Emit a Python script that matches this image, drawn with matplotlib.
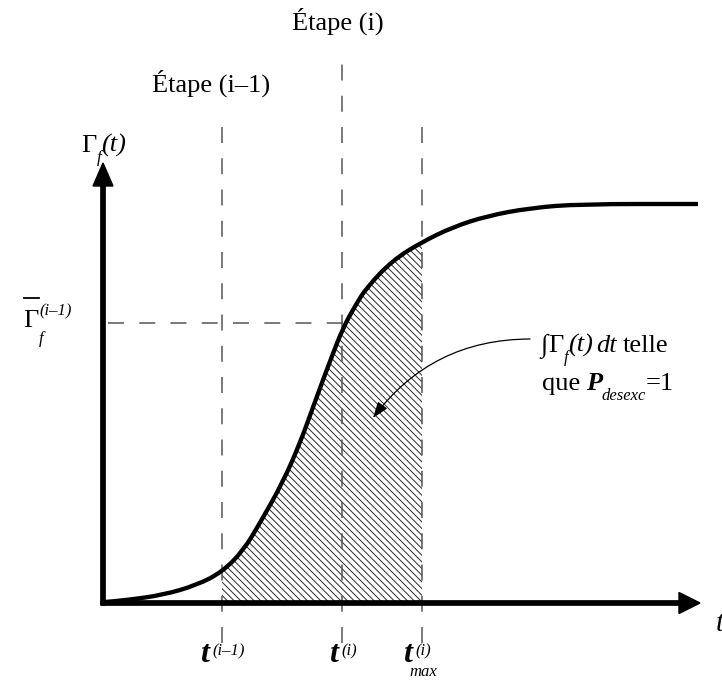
"""Schematic: cumulative Gamma_f(t) curve with hatched integral between steps."""

import matplotlib

matplotlib.use("Agg")
import matplotlib.pyplot as plt
from matplotlib.patches import PathPatch
from matplotlib.path import Path

plt.rcParams["font.family"] = ["Liberation Serif", "DejaVu Serif"]
plt.rcParams["hatch.linewidth"] = 0.7
plt.rcParams["hatch.color"] = "#2a2a2a"
plt.rcParams["lines.scale_dashes"] = False

# curve (t from the origin, Gamma above the t axis)
curve_t = [2, 24, 60, 94, 119, 140, 157, 180, 197, 209, 220, 229, 240, 252,
           264, 290, 319, 350, 384, 427, 477, 595]
curve_g = [1, 3, 8, 18, 31, 52, 80, 121, 160, 193, 223, 247, 275, 297,
           316, 343, 361, 376, 387, 395, 399, 399]

t_prev, t_step, t_max = 119, 239, 319
gamma_bar = 280
step_tops = [478, 543, 478]
dash_bottom = -40

X0, Y0 = 103, 603  # pixel position of the origin


def at(x, y):
    return x - X0, Y0 - y


def smooth_path(ts, gs, close=False):
    """Quadratic Bezier path through the midpoints of the read points."""
    pts = list(zip(ts, gs))
    mids = [((a[0] + b[0]) / 2, (a[1] + b[1]) / 2) for a, b in zip(pts, pts[1:])]
    verts = [pts[0], mids[0]]
    codes = [Path.MOVETO, Path.LINETO]
    for ctrl, end in zip(pts[1:-1], mids[1:]):
        verts += [ctrl, end]
        codes += [Path.CURVE3, Path.CURVE3]
    verts.append(pts[-1])
    codes.append(Path.LINETO)
    if close:
        verts += [(ts[-1], 0), (ts[0], 0), (ts[0], 0)]
        codes += [Path.LINETO, Path.LINETO, Path.CLOSEPOLY]
    return Path(verts, codes)


fig = plt.figure(figsize=(7.22, 6.8), dpi=100)
ax = fig.add_axes([0, 0, 1, 1])
ax.set_xlim(-X0, 722 - X0)
ax.set_ylim(Y0 - 680, Y0)
ax.axis("off")

# hatched area between t^(i-1) and t_max^(i), clipped by the area under the curve
under = PathPatch(smooth_path(curve_t, curve_g, close=True), facecolor="none",
                  edgecolor="none", transform=ax.transData)
ax.add_patch(under)
hatched = ax.fill_between([t_prev, t_max], 0, max(curve_g), facecolor="white",
                          edgecolor="#2a2a2a", hatch="\\\\\\\\\\", linewidth=0,
                          zorder=1)
hatched.set_clip_path(under)

dash = (0, (11.5, 11))
for t, top in zip((t_prev, t_step, t_max), step_tops):
    ax.plot([t, t], [dash_bottom, top], color="#555555", lw=1.1,
            linestyle=dash, zorder=2)
ax.plot([5, t_step + 4], [gamma_bar, gamma_bar], color="#555555", lw=1.1,
        linestyle=dash, zorder=2)

# axes with arrow heads
ax.arrow(0, -2, 0, 442, width=4.3, head_width=20, head_length=23,
         length_includes_head=True, color="black", zorder=4)
ax.arrow(-2, 0, 599, 0, width=4.3, head_width=21, head_length=21,
         length_includes_head=True, color="black", zorder=4)

ax.add_patch(PathPatch(smooth_path(curve_t, curve_g), facecolor="none",
                       edgecolor="black", lw=3.1, capstyle="butt",
                       joinstyle="round", zorder=5))

# annotation arrow
ax.annotate("", xy=at(373, 418), xytext=at(530, 339),
            arrowprops=dict(arrowstyle="-|>,head_length=0.7,head_width=0.25",
                            connectionstyle="arc3,rad=0.25", color="black",
                            lw=0.9, mutation_scale=14, shrinkA=0, shrinkB=0),
            zorder=6)

big, small = 19, 12
it = dict(style="italic")
bit = dict(style="italic", weight="bold")


def label(x, y, s, size=big, **kw):
    ax.text(*at(x, y), s, fontsize=size, va="baseline", ha=kw.pop("ha", "left"),
            **kw)


label(338, 30, "Étape (i)", ha="center")
label(211, 92, "Étape (i–1)", ha="center")

label(81, 152, "Γ")
label(97, 162, "f", small, **it)
label(101, 152, "(t)", **it)

label(23, 327, "Γ")
ax.plot(*zip(at(24, 298), at(39, 298)), color="black", lw=1.3)
label(39, 343, "f", small, **it)
label(72, 315, "(i–1)", small, ha="right", **it)

label(200, 662, "t", 23, **bit)
label(212, 655, "(i–1)", small, **it)
label(329, 662, "t", 23, **bit)
label(341, 655, "(i)", small, **it)
label(403, 662, "t", 23, **bit)
label(415, 655, "(i)", small, **it)
label(409, 676, "max", small, **it)
label(716, 631, "t", 21, **it)

label(540, 352, "∫")
label(548, 352, "Γ")
label(564, 362, "f", small, **it)
label(568, 352, "(t)", **it)
label(596, 352, "dt", **it)
label(623, 352, "telle")
label(542, 390, "que")
label(586, 390, "P", **bit)
label(601, 400, "desexc", small, **it)
label(646, 390, "=1")

fig.savefig("out.png", dpi=100)
